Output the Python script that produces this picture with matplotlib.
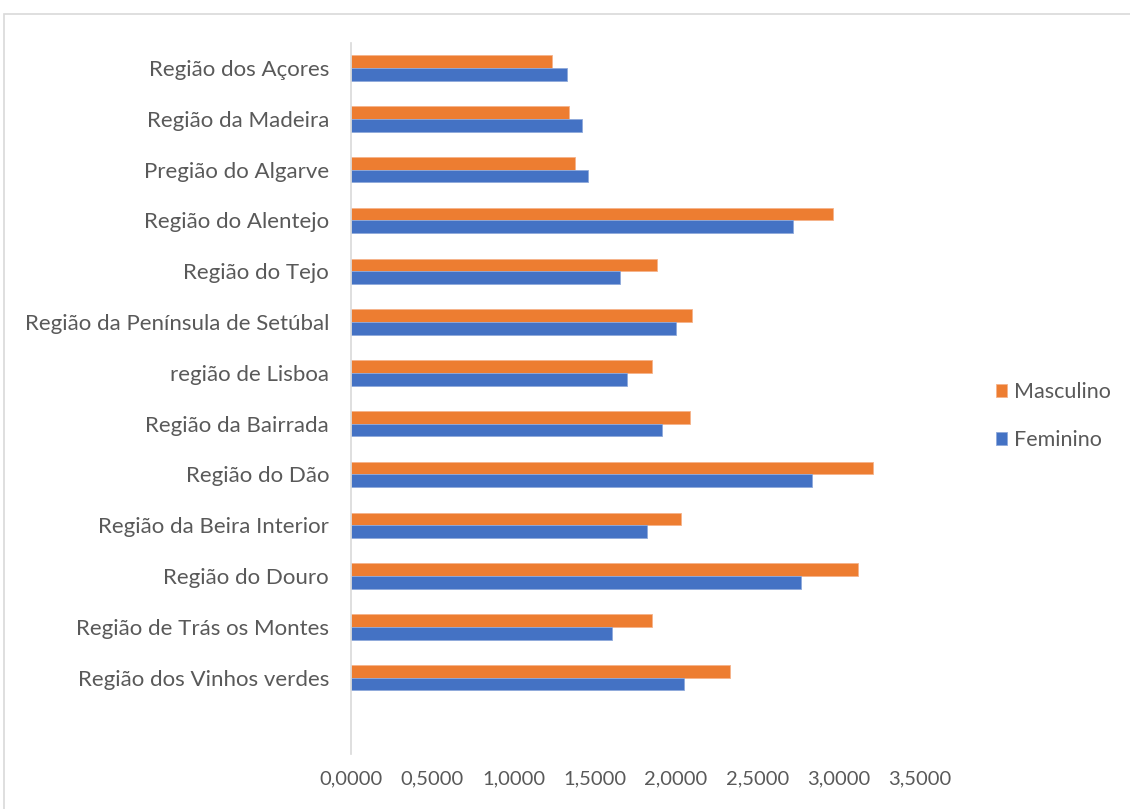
import matplotlib.pyplot as plt
from matplotlib.patches import Rectangle
from matplotlib.ticker import FuncFormatter

plt.rcParams['font.family'] = ['Lato', 'DejaVu Sans']

regioes = [
    "Região dos Vinhos verdes",
    "Região de Trás os Montes",
    "Região do Douro",
    "Região da Beira Interior",
    "Região do Dão",
    "Região da Bairrada",
    "região de Lisboa",
    "Região da Península de Setúbal",
    "Região do Tejo",
    "Região do Alentejo",
    "Pregião do Algarve",
    "Região da Madeira",
    "Região dos Açores",
]
masculino = [2.331, 1.849, 3.118, 2.032, 3.215, 2.085, 1.849, 2.097, 1.880, 2.967, 1.376, 1.343, 1.236]
feminino = [2.050, 1.608, 2.770, 1.820, 2.835, 1.915, 1.696, 2.001, 1.653, 2.721, 1.458, 1.423, 1.328]
ticks = [0, 0.5, 1.0, 1.5, 2.0, 2.5, 3.0, 3.5]

laranja = "#ED7D31"
azul = "#4472C4"
cinza = "#595959"

fig = plt.figure(figsize=(11.3, 8.09), dpi=100)
ax = fig.add_axes([0.3109, 0.0682, 0.5029, 0.8791])

y = list(range(len(regioes)))
h = 0.25
ax.barh([i + h / 2 for i in y], masculino, height=h, color=laranja,
        edgecolor="#F5B38A", linewidth=0.6, label="Masculino")
ax.barh([i - h / 2 for i in y], feminino, height=h, color=azul,
        edgecolor="#8EA9DB", linewidth=0.6, label="Feminino")

ax.set_xlim(0, 3.5)
ax.set_ylim(-1.5, 12.5)
ax.set_yticks(y)
ax.set_yticklabels(regioes, fontsize=16, color=cinza)
ax.set_xticks(ticks)
ax.xaxis.set_major_formatter(FuncFormatter(lambda v, p: f"{v:.4f}".replace(".", ",")))
ax.tick_params(axis="x", length=0, pad=12, labelsize=14.5, labelcolor=cinza)
ax.tick_params(axis="y", length=0, pad=16)

for lado in ["top", "right", "bottom"]:
    ax.spines[lado].set_visible(False)
ax.spines["left"].set_color("#D9D9D9")
ax.spines["left"].set_linewidth(1.2)

# moldura cinzenta do gráfico
fig.patches.append(Rectangle((3.5 / 1130, -0.01), 1.2, 1 - 13.5 / 809 + 0.01,
                             transform=fig.transFigure, fill=False,
                             edgecolor="#D9D9D9", linewidth=1.2))

fig.legend(loc="center left", bbox_to_anchor=(0.881, 0.486), frameon=False,
           borderpad=0, borderaxespad=0,
           fontsize=15.5, labelcolor=cinza, handlelength=0.55, handleheight=0.55,
           handletextpad=0.3, labelspacing=1.3)

fig.savefig("out.png", dpi=100)
